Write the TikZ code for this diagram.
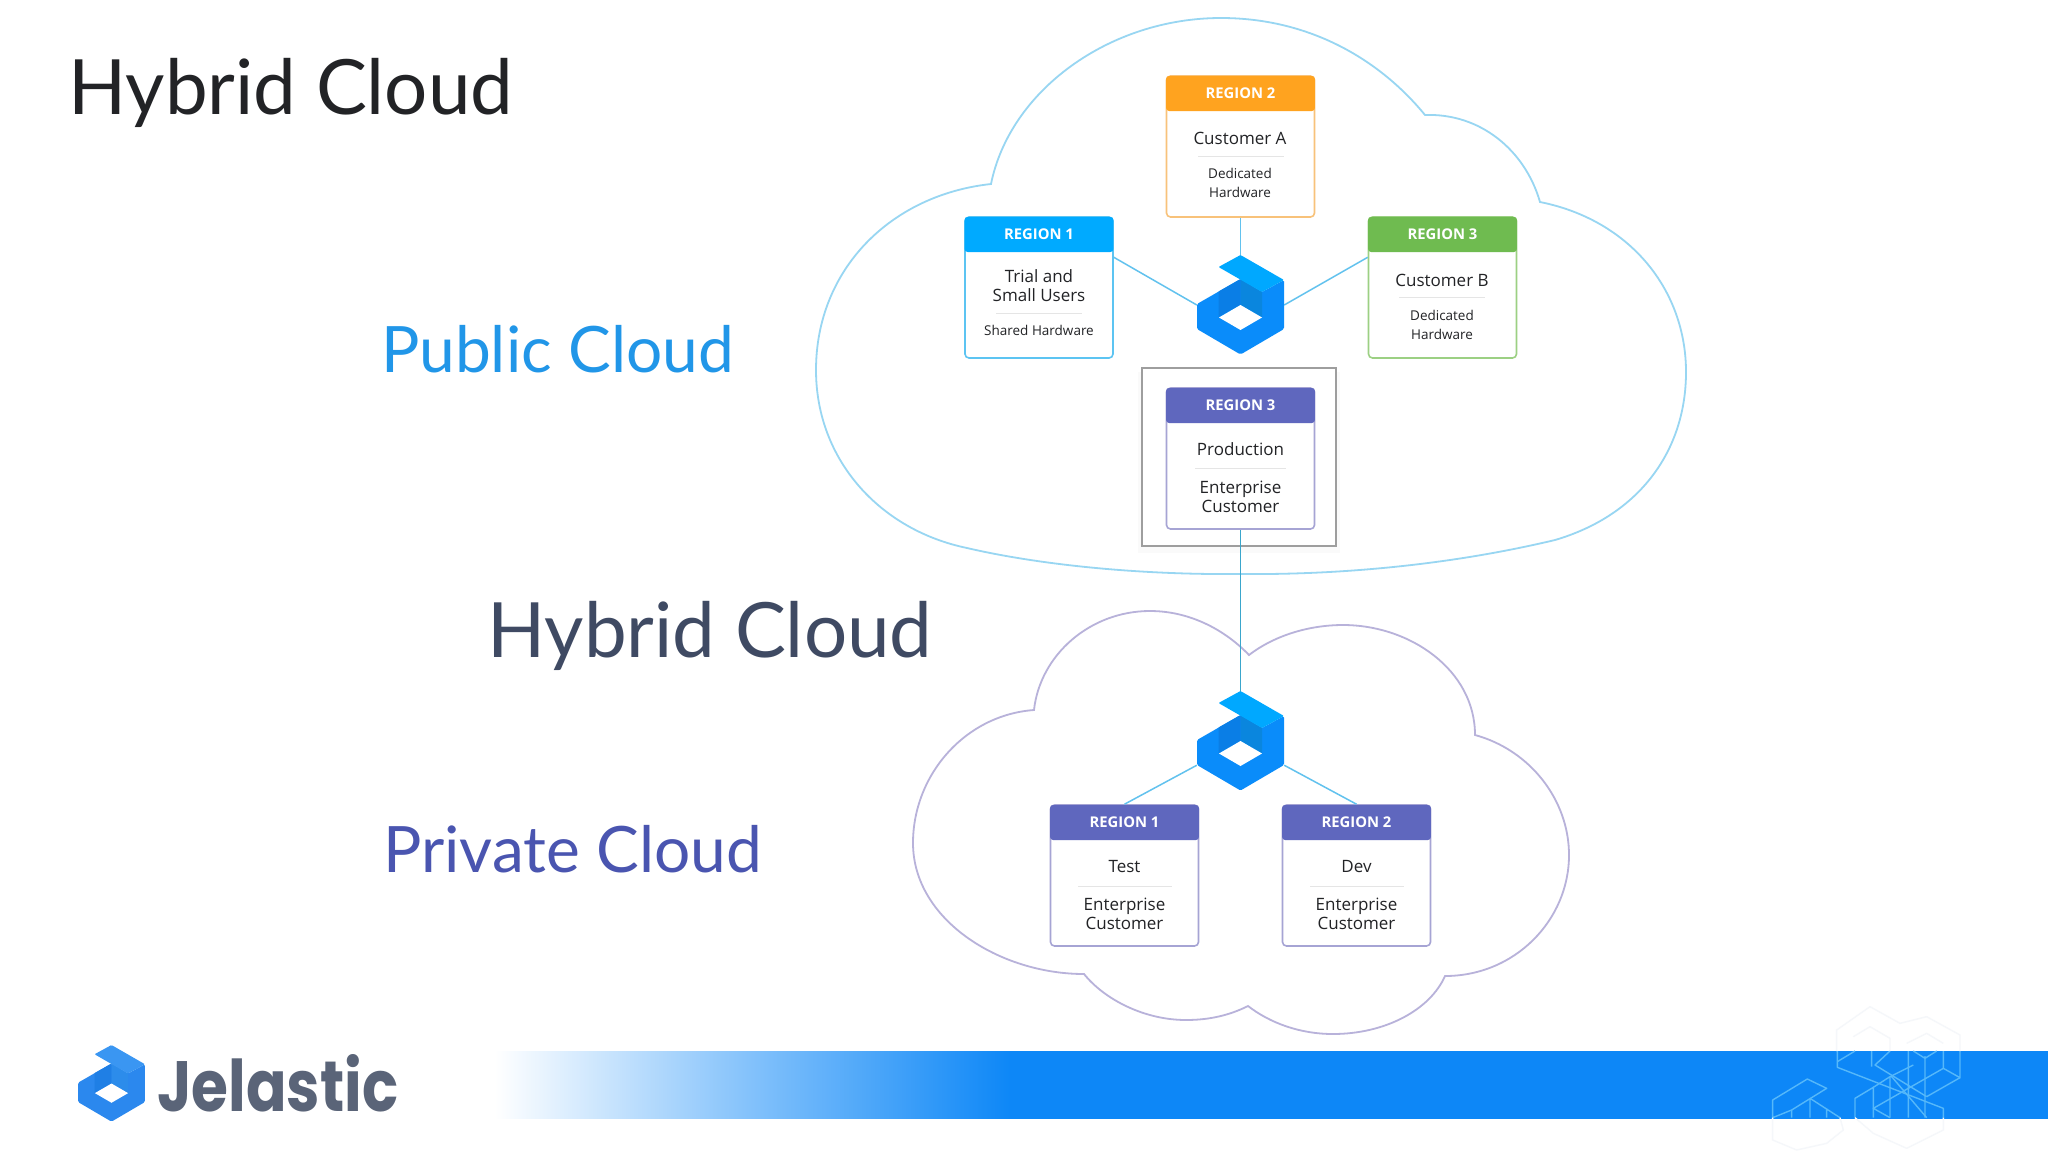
\documentclass[tikz,border=0pt]{standalone}
\usepackage{fontspec}
\setmainfont{Lato}
\newfontfamily\boxfont{Open Sans}
\newfontfamily\brandfont{Poppins}
\definecolor{inkdark}{HTML}{222326}
\definecolor{inkslate}{HTML}{3F4A63}
\definecolor{pubblue}{HTML}{2196E8}
\definecolor{privblue}{HTML}{4A55B0}
\definecolor{cloudA}{HTML}{98D6F2}
\definecolor{cloudB}{HTML}{B8B2DA}
\definecolor{linkA}{HTML}{62C2EE}
\definecolor{linkB}{HTML}{3AA6CC}
\definecolor{rblue}{HTML}{00AAFF}
\definecolor{rblueedge}{HTML}{5CC4F2}
\definecolor{rorange}{HTML}{FFA31F}
\definecolor{rorangeedge}{HTML}{F8C27A}
\definecolor{rgreen}{HTML}{6FBB50}
\definecolor{rgreenedge}{HTML}{9CD083}
\definecolor{rpurple}{HTML}{5F67BE}
\definecolor{rpurpleedge}{HTML}{A6A4D4}
\definecolor{bannerblue}{HTML}{0D87F7}
\definecolor{wmline}{HTML}{55B8FA}
\definecolor{wmfaint}{HTML}{F5F7FA}
\definecolor{brandink}{HTML}{5A6478}
\definecolor{logobody}{HTML}{0A8CFA}
\definecolor{logoflap}{HTML}{00A8FF}
\definecolor{logoshadeL}{HTML}{0A7EE6}
\definecolor{logoshadeR}{HTML}{0A86DE}
\definecolor{smallbody}{HTML}{2B88EE}
\definecolor{smallflap}{HTML}{3A96F2}
\definecolor{smallshadeL}{HTML}{1F7FE5}
\definecolor{smallshadeR}{HTML}{2C8CEB}
\pgfdeclarehorizontalshading{bannerfade}{100bp}{color(0bp)=(white); color(25bp)=(white); color(33bp)=(bannerblue!50!white); color(41.6bp)=(bannerblue); color(100bp)=(bannerblue)}
\tikzset{
  bodybox/.style={draw=#1,fill=white,rounded corners=4pt,line width=1.6pt,minimum width=148pt,minimum height=141pt,inner sep=0pt},
  headbox/.style={fill=#1,rounded corners=3pt,minimum width=148.8pt,minimum height=35pt,inner sep=0pt,text=white,font=\boxfont\bfseries\fontsize{14.8}{17}\selectfont},
  maintext/.style={text=inkdark,align=center,inner sep=0pt,font=\boxfont\fontsize{17}{19}\selectfont},
  smalltext/.style={text=inkdark,align=center,inner sep=0pt,font=\boxfont\fontsize{13.5}{19}\selectfont},
  bigtitle/.style={anchor=base west,inner sep=0pt,font=\fontsize{#1}{#1}\selectfont},
  sep/.style={draw=black!10,line width=0.8pt},
  logonode/.style={minimum width=87pt,minimum height=98pt,inner sep=0pt},
  link/.style={draw=linkA,line width=1.5pt},
  wm/.style={draw=wmline,line width=1.4pt,line join=round},
  wmf/.style={draw=wmfaint,line width=1.4pt,line join=round}
}
\newcommand{\cubelogo}[7]{%
  \begin{scope}[shift={(#1,#2)},scale=#3]
    \fill[#4,rounded corners=1.5pt] (0,-26) -- (-43.5,-1) -- (-43.5,24) -- (0,49.5) -- (43.5,24) -- (43.5,-25) -- (21.5,-13) -- cycle;
    \fill[#6] (-22,-13.5) -- (0,-26) -- (0,0) -- (-22,12) -- cycle;
    \fill[#7] (0,-26) -- (21.5,-13) -- (21.5,12) -- (0,0) -- cycle;
    \fill[#5,rounded corners=1pt] (0,-50) -- (43.5,-25) -- (21.5,-13) -- (-22,-38) -- cycle;
    \fill[white] (0,0) -- (21.5,12.5) -- (0,25) -- (-21.5,12.5) -- cycle;
  \end{scope}}
\begin{document}
\begin{tikzpicture}[x=1pt,y=-1pt]
\useasboundingbox (0,0) rectangle (2048,1152);
\fill[white] (0,0) rectangle (2048,1152);

% clouds
\draw[cloudA,line width=1.8pt,line join=miter]
  (991,184) .. controls (1010,90) and (1110,18) .. (1221,18)
  .. controls (1310,18) and (1380,60) .. (1425,115)
  .. controls (1480,113) and (1525,150) .. (1540,202)
  .. controls (1630,220) and (1686,290) .. (1686,372)
  .. controls (1686,450) and (1640,515) .. (1555,540)
  .. controls (1450,565) and (1340,575) .. (1240,574)
  .. controls (1140,575) and (1040,565) .. (967,548)
  .. controls (880,530) and (816,460) .. (816,370)
  .. controls (816,270) and (890,195) .. (991,184) -- cycle;
\draw[cloudB,line width=1.8pt,line join=miter]
  (1249,655) .. controls (1275,635) and (1310,625) .. (1343,625)
  .. controls (1410,625) and (1475,670) .. (1475,735)
  .. controls (1530,750) and (1569,800) .. (1569,855)
  .. controls (1569,920) and (1515,976) .. (1445,976)
  .. controls (1430,1010) and (1385,1034) .. (1333,1034)
  .. controls (1300,1034) and (1270,1023) .. (1248,1006)
  .. controls (1230,1015) and (1210,1020) .. (1186,1020)
  .. controls (1145,1020) and (1105,1000) .. (1084,974)
  .. controls (1000,974) and (913,920) .. (913,843)
  .. controls (913,775) and (965,715) .. (1034,710)
  .. controls (1040,655) and (1090,611) .. (1150,611)
  .. controls (1190,611) and (1225,630) .. (1249,655) -- cycle;

% banner
\shade[shading=bannerfade] (495,1051) rectangle (2048,1118);

% watermark
\begin{scope}[shift={(1700,980)},x=0.3333pt,y=-0.3333pt]
  \draw[wm] (218,413) -- (218,360) -- (322,297) -- (380,325) -- (275,390) -- cycle;
  \draw[wm] (275,390) -- (275,413) (330,355) -- (330,413) (380,385) -- (380,413) (330,355) -- (420,413);
  \draw[wm] (412,213) -- (412,262) -- (730,385) -- (730,413);
  \draw[wm] (465,213) -- (412,245) (515,213) -- (515,260) (570,213) -- (525,255) -- (680,350);
  \draw[wm] (625,213) -- (625,413) (675,228) -- (675,413) (640,213) -- (675,235) -- (710,213) (730,213) -- (730,265) -- (780,293) -- (780,213);
  \draw[wm] (730,265) -- (520,385) -- (570,413) (780,293) -- (680,350);
  \draw[wm] (465,413) -- (465,355) -- (520,322) -- (520,413);
  \draw[wm] (520,322) -- (570,290) -- (640,255) (570,290) -- (570,413) (575,290) -- (680,413);
  \draw[wmf] (410,213) -- (410,150) -- (510,80) -- (600,130) -- (680,110) -- (780,165) -- (780,213);
  \draw[wmf] (460,170) -- (510,140) -- (570,175) -- (570,213) (620,190) -- (680,160) -- (730,190);
  \draw[wmf] (218,413) -- (218,480) -- (290,510) -- (380,490) -- (430,450) -- (420,413);
  \draw[wmf] (465,413) -- (520,460) -- (620,505) -- (730,450) -- (730,413);
\end{scope}

% frame round the production region
\fill[black!2] (1138,372) rectangle (1340,553);
\draw[draw=black!38,fill=white,line width=1.8pt] (1142,368) rectangle (1336,546);

% logo anchors
\node[logonode] (lt) at (1240.5,305) {};
\node[logonode] (lb) at (1240.5,741) {};

% bodies
\node[bodybox=rorangeedge] (r2) at (1240.5,146.5) {};
\node[bodybox=rblueedge] (r1) at (1039,287.5) {};
\node[bodybox=rgreenedge] (r3) at (1442.5,287.5) {};
\node[bodybox=rpurpleedge] (rp) at (1240.5,458.5) {};
\node[bodybox=rpurpleedge] (t1) at (1124.5,875.5) {};
\node[bodybox=rpurpleedge] (t2) at (1356.5,875.5) {};

% connectors
\draw[link] (r2.south) -- (lt.north);
\draw[link] (r1.22) -- (lt.west);
\draw[link] (r3.158) -- (lt.east);
\draw[link,draw=linkB] (rp.south) -- (lb.north);
\draw[link] (lb.209) -- (t1.north);
\draw[link] (lb.-29) -- (t2.north);

% headers
\node[headbox=rorange] (h2) at (1240.5,93.5) {\raisebox{-1pt}{REGION 2}};
\node[headbox=rblue] (h1) at (1039,234.5) {\raisebox{-1pt}{REGION 1}};
\node[headbox=rgreen] (h3) at (1442.5,234.5) {\raisebox{-1pt}{REGION 3}};
\node[headbox=rpurple] (hp) at (1240.5,405.5) {\raisebox{-1pt}{REGION 3}};
\node[headbox=rpurple] (ht1) at (1124.5,822.5) {\raisebox{-1pt}{REGION 1}};
\node[headbox=rpurple] (ht2) at (1356.5,822.5) {\raisebox{-1pt}{REGION 2}};

% texts and separators
\node[maintext] (a1) at (1240,138) {Customer A};
\draw[sep] (1198,156) -- (1284,156);
\node[smalltext] (a2) at (1240,183) {Dedicated\\Hardware};

\node[maintext] (b1) at (1039,285.5) {Trial and\\Small Users};
\draw[sep] (996,313) -- (1082,313);
\node[smalltext] (b2) at (1039,330) {Shared Hardware};

\node[maintext] (c1) at (1442,280) {Customer B};
\draw[sep] (1399,297) -- (1485,297);
\node[smalltext] (c2) at (1442,324.5) {Dedicated\\Hardware};

\node[maintext] (d1) at (1240.5,449) {Production};
\draw[sep] (1195,468) -- (1286,468);
\node[maintext] (d2) at (1240.5,496.5) {Enterprise\\Customer};

\node[maintext] (e1) at (1124.5,867) {Test};
\draw[sep] (1078,886) -- (1172,886);
\node[maintext] (e2) at (1124.5,914) {Enterprise\\Customer};

\node[maintext] (f1) at (1356.5,867) {Dev};
\draw[sep] (1310,886) -- (1404,886);
\node[maintext] (f2) at (1356.5,914) {Enterprise\\Customer};

% logos
\cubelogo{1240.5}{305}{1}{logobody}{logoflap}{logoshadeL}{logoshadeR}
\cubelogo{1240.5}{741}{1}{logobody}{logoflap}{logoshadeL}{logoshadeR}
\cubelogo{111.5}{1083.5}{0.77}{smallbody}{smallflap}{smallshadeL}{smallshadeR}

% large labels
\node[bigtitle=76.3,text=inkdark] (title) at (68,114) {Hybrid Cloud};
\node[bigtitle=64,text=pubblue] (pub) at (381,372) {Public Cloud};
\node[bigtitle=76.3,text=inkslate] (hyb) at (487,657) {Hybrid Cloud};
\node[bigtitle=64,text=privblue] (priv) at (383,872) {Private Cloud};
\node[anchor=south west,inner sep=0pt,text=brandink] (brand) at (157,1112) {\resizebox{241pt}{57pt}{\brandfont\bfseries Jelastic}};
\end{tikzpicture}
\end{document}
